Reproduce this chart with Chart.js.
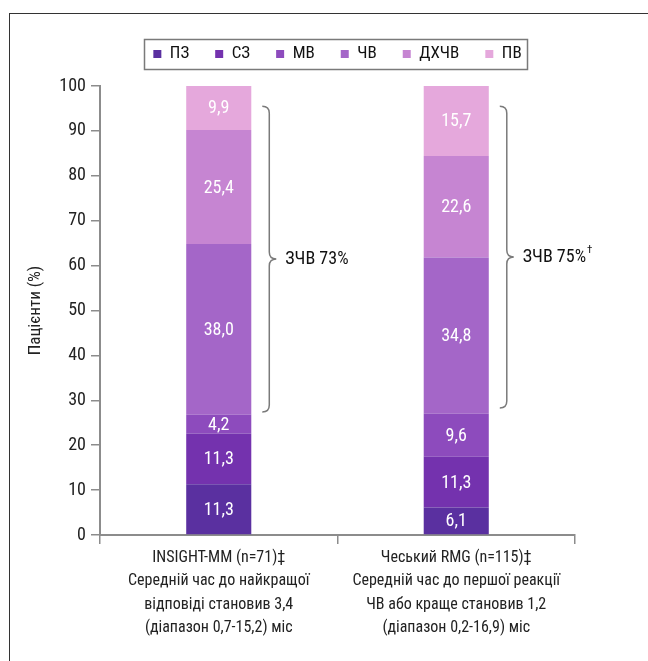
<!DOCTYPE html>
<html><head><meta charset="utf-8">
<script src="https://cdn.jsdelivr.net/npm/chart.js@4.4.1/dist/chart.umd.min.js"></script>
<style>
html,body{margin:0;padding:0;background:#fff;}
#wrap{position:relative;width:648px;height:661px;overflow:hidden;background:#fff;}
#frame{position:absolute;left:9px;top:13px;width:700px;height:700px;border-left:1.5px solid #333;border-top:1.5px solid #333;}
canvas{position:absolute;left:0;top:0;}
</style></head><body>
<div id="wrap"><div id="frame"></div><canvas id="c" width="648" height="661"></canvas></div>
<script>
// ---- data ----
const categories = [
  ['INSIGHT-MM (n=71)‡', 'Середній час до найкращої', 'відповіді становив 3,4', '(діапазон 0,7-15,2) міс'],
  ['Чеський RMG (n=115)‡', 'Середній час до першої реакції', 'ЧВ або краще становив 1,2', '(діапазон 0,2-16,9) міс']
];
const seriesNames = ['ПЗ', 'СЗ', 'МВ', 'ЧВ', 'ДХЧВ', 'ПВ'];
const pzValues    = [11.3, 6.1];
const szValues    = [11.3, 11.3];
const mvValues    = [4.2, 9.6];
const chvValues   = [38.0, 34.8];
const dkhchvValues= [25.4, 22.6];
const pvValues    = [9.9, 15.7];
const yTickMin = 0, yTickMax = 100, yTickStep = 10;
const yTitle = 'Пацієнти (%)';
const orrLabels = ['ЗЧВ 73%', 'ЗЧВ 75%'];
const orrMarks  = ['', '†'];
const orrRanges = [[27.4, 95.5], [28.3, 95.5]];

// ---- styles ----
const FONT = "'Roboto Condensed', 'DejaVu Sans Condensed', sans-serif";
const colors = ['#5a30a0', '#7432ae', '#8d4bbd', '#a466c8', '#c685d2', '#e5a8dc'];
const seriesValues = [pzValues, szValues, mvValues, chvValues, dkhchvValues, pvValues];
const AXIS = '#8c8c8c';

const datasets = seriesNames.map((n, i) => ({
  label: n,
  data: seriesValues[i],
  backgroundColor: colors[i],
  borderWidth: 0,
  barPercentage: 0.274,
  categoryPercentage: 1.0
}));

const fmt = v => v.toFixed(1).replace('.', ',');

const layoutTweak = {
  id: 'layoutTweak',
  afterLayout(chart) {
    const lg = chart.legend;
    if (lg) { lg.top -= 13.5; lg.bottom -= 13.5; }
  }
};

const valueLabels = {
  id: 'valueLabels',
  afterDatasetsDraw(chart) {
    const ctx = chart.ctx;
    ctx.save();
    ctx.font = '18px ' + FONT;
    ctx.fillStyle = '#ffffff';
    ctx.textAlign = 'center';
    ctx.textBaseline = 'middle';
    chart.data.datasets.forEach((ds, di) => {
      const meta = chart.getDatasetMeta(di);
      meta.data.forEach((el, i) => {
        const cy = (el.y + el.base) / 2;
        ctx.fillText(fmt(ds.data[i]), el.x, cy + 1);
      });
    });
    ctx.restore();
  }
};

const brackets = {
  id: 'brackets',
  afterDatasetsDraw(chart) {
    const ctx = chart.ctx, ys = chart.scales.y;
    const meta = chart.getDatasetMeta(0);
    ctx.save();
    orrRanges.forEach((r, i) => {
      const el = meta.data[i];
      const x0 = el.x + el.width / 2 + 11;
      const top = ys.getPixelForValue(r[1]);
      const bot = ys.getPixelForValue(r[0]);
      const mid = (top + bot) / 2;
      const w = 7;
      ctx.beginPath();
      ctx.moveTo(x0, top);
      ctx.quadraticCurveTo(x0 + w, top, x0 + w, top + w);
      ctx.lineTo(x0 + w, mid - w);
      ctx.quadraticCurveTo(x0 + w, mid, x0 + 2 * w, mid);
      ctx.quadraticCurveTo(x0 + w, mid, x0 + w, mid + w);
      ctx.lineTo(x0 + w, bot - w);
      ctx.quadraticCurveTo(x0 + w, bot, x0, bot);
      ctx.strokeStyle = '#7a7a7a';
      ctx.lineWidth = 1.5;
      ctx.stroke();
      ctx.font = '18px ' + FONT;
      ctx.fillStyle = '#111';
      ctx.textAlign = 'left';
      ctx.textBaseline = 'middle';
      const tx = x0 + 2 * w + 9;
      ctx.fillText(orrLabels[i], tx, mid);
      if (orrMarks[i]) {
        const tw = ctx.measureText(orrLabels[i]).width;
        ctx.font = '11px ' + FONT;
        ctx.fillText(orrMarks[i], tx + tw + 1, mid - 7);
      }
    });
    ctx.restore();
  }
};

const legendBorder = {
  id: 'legendBorder',
  afterDraw(chart) {
    const lg = chart.legend;
    if (!lg || !lg.legendHitBoxes || !lg.legendHitBoxes.length) return;
    const hb = lg.legendHitBoxes;
    let l = Infinity, r = -Infinity, cy = 0;
    hb.forEach(h => { l = Math.min(l, h.left); r = Math.max(r, h.left + h.width); cy = h.top + h.height / 2; });
    const ctx = chart.ctx;
    ctx.save();
    ctx.strokeStyle = '#7a7a7a';
    ctx.lineWidth = 1.5;
    ctx.strokeRect(Math.round(l - 9) + 0.5, Math.round(cy - 15) + 0.5, Math.round(r - l + 15), 30);
    ctx.restore();
  }
};

new Chart(document.getElementById('c'), {
  type: 'bar',
  data: { labels: categories, datasets },
  plugins: [layoutTweak, valueLabels, brackets, legendBorder],
  options: {
    responsive: false,
    animation: false,
    devicePixelRatio: 1,
    layout: { padding: { top: 33, left: 0, right: 73, bottom: 0 } },
    plugins: {
      legend: {
        position: 'top',
        fullSize: false,
        labels: { boxWidth: 8, boxHeight: 8, padding: 26, color: '#111', font: { family: FONT, size: 17 } }
      },
      tooltip: { enabled: false }
    },
    scales: {
      x: {
        stacked: true,
        grid: { display: true, drawOnChartArea: false, drawTicks: true, tickLength: 9, color: AXIS, lineWidth: 1.5, offset: true },
        border: { color: AXIS, width: 2 },
        ticks: { color: '#222', font: { family: FONT, size: 16, lineHeight: 1.47 }, padding: 2, maxRotation: 0, autoSkip: false },
        afterFit(s) { s.height = 126; }
      },
      y: {
        stacked: true,
        min: yTickMin, max: yTickMax,
        ticks: { stepSize: yTickStep, color: '#222', font: { family: FONT, size: 18 }, padding: 5 },
        grid: { display: true, drawOnChartArea: false, drawTicks: true, tickLength: 9, color: AXIS, lineWidth: 1.5 },
        border: { color: AXIS, width: 2 },
        title: { display: true, text: yTitle, color: '#222', font: { family: FONT, size: 17 }, padding: { top: 26, bottom: 0 } },
        afterFit(s) { s.width = 100; }
      }
    }
  }
});
</script>
</body></html>
